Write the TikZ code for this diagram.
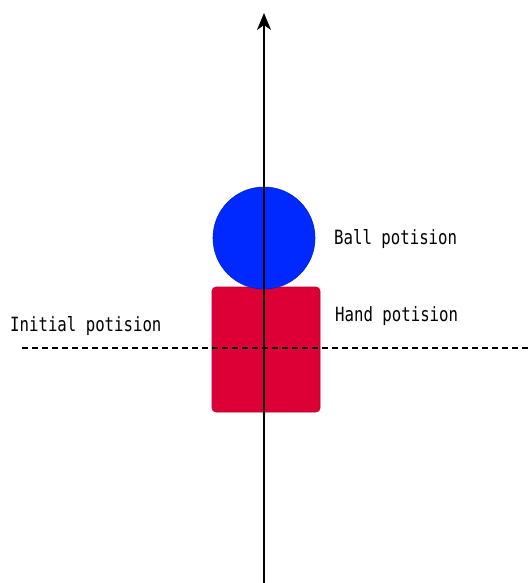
\documentclass[tikz,border=0pt]{standalone}
\usepackage{fontspec}
\setmonofont{DejaVu Sans Mono}
\usetikzlibrary{arrows.meta}
\definecolor{ballblue}{RGB}{0,41,255}
\definecolor{balledge}{RGB}{0,30,210}
\definecolor{handred}{RGB}{220,0,55}
\definecolor{handedge}{RGB}{180,0,40}
\newcommand{\tallt}[1]{\scalebox{1}[1.25]{#1}}
\begin{document}
\begin{tikzpicture}[x=1pt,y=-1pt,
  lbl/.style={font=\ttfamily\fontsize{15.7}{18}\selectfont, anchor=west, inner sep=0pt},
  axisline/.style={line width=1.6pt, -{Stealth[length=17pt,width=14pt,inset=5pt]}},
  dashline/.style={line width=1.4pt, dash pattern=on 6pt off 4pt}]
\useasboundingbox (0,0) rectangle (528,583);
\node[rectangle, rounded corners=4pt, fill=handred, draw=handedge, line width=0.6pt,
      minimum width=108pt, minimum height=125pt, inner sep=0pt] (hand) at (266,349.5) {};
\node[circle, fill=ballblue, draw=balledge, line width=0.6pt,
      minimum size=102pt, inner sep=0pt] (ball) at (264,238) {};
\coordinate (dl) at (22,348);
\coordinate (dr) at (528,348);
\draw[dashline] (dl) -- (dr);
\coordinate (ab) at (264,583);
\coordinate (at) at (264,13);
\draw[axisline] (ab) -- (at);
\node[lbl] (balllbl) at (334,239) {\tallt{Ball potision}};
\node[lbl] (handlbl) at (335,316) {\tallt{Hand potision}};
\node[lbl] (initlbl) at (10,326) {\tallt{Initial potision}};
\end{tikzpicture}
\end{document}
